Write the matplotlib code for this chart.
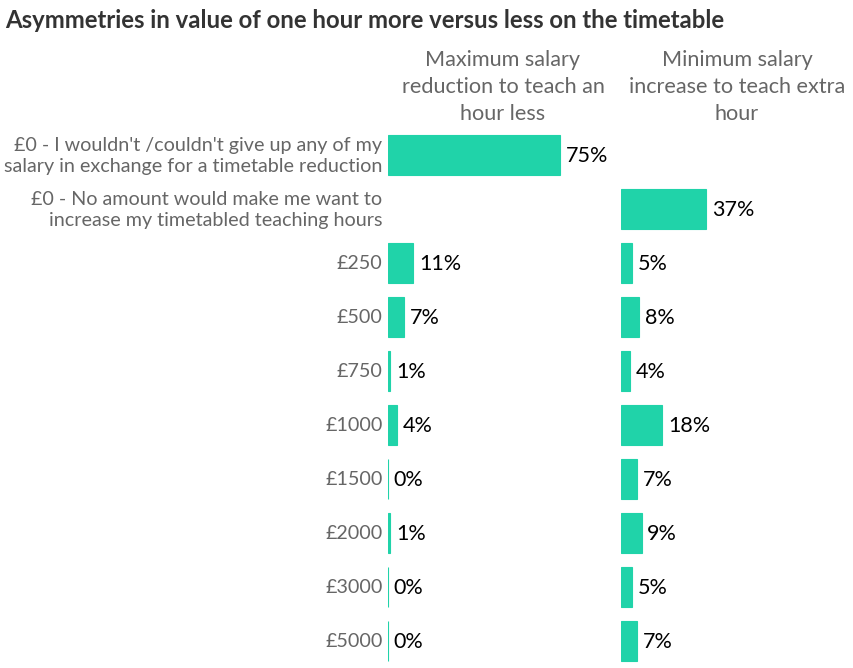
import matplotlib
matplotlib.use("Agg")
import matplotlib.pyplot as plt

plt.rcParams['font.family'] = ['Lato', 'DejaVu Sans']

categories = [
    "£0 - I wouldn't /couldn't give up any of my\nsalary in exchange for a timetable reduction",
    "£0 - No amount would make me want to\nincrease my timetabled teaching hours",
    "£250", "£500", "£750", "£1000", "£1500", "£2000", "£3000", "£5000",
]
reduction = [75, None, 11, 7, 1, 4, 0, 1, 0, 0]
increase = [None, 37, 5, 8, 4, 18, 7, 9, 5, 7]
headers = ["Maximum salary\nreduction to teach an\nhour less",
           "Minimum salary\nincrease to teach extra\nhour"]
title = "Asymmetries in value of one hour more versus less on the timetable"

bar_color = '#20d3a9'
label_color = '#666666'

W, H = 854, 668
fig = plt.figure(figsize=(W / 100, H / 100), dpi=100)

top = (H - 128) / H
ax1 = fig.add_axes([388 / W, 0, 230 / W, top])
ax2 = fig.add_axes([621 / W, 0, 230 / W, top])

for ax, vals in ((ax1, reduction), (ax2, increase)):
    for i, v in enumerate(vals):
        if v is None:
            continue
        ax.barh(i, v, height=0.74, color=bar_color, edgecolor=bar_color, linewidth=0.8)
        ax.annotate(f"{v}%", (v, i), xytext=(4, -1), textcoords='offset points',
                    va='center', ha='left', fontsize=15.5, color='black')
    ax.set_xlim(0, 100)
    ax.set_ylim(len(categories) - 0.5, -0.5)
    ax.set_xticks([])
    ax.set_yticks([])
    for s in ax.spines.values():
        s.set_visible(False)
    ax.patch.set_visible(False)

for i, c in enumerate(categories):
    ax1.annotate(c, (0, i), xytext=(-4, -0.5), textcoords='offset points',
                 va='center', ha='right', fontsize=14.2, color=label_color,
                 linespacing=1.28)

fig.text(503 / W, 1 - 87 / H, headers[0], ha='center', va='center',
         fontsize=15.6, color=label_color, linespacing=1.45)
fig.text(737 / W, 1 - 87 / H, headers[1], ha='center', va='center',
         fontsize=15.6, color=label_color, linespacing=1.45)

fig.text(5 / W, 1 - 21 / H, title, ha='left', va='center',
         fontsize=17.2, fontweight='bold', color='#333333')

fig.savefig("out.png", dpi=100)
